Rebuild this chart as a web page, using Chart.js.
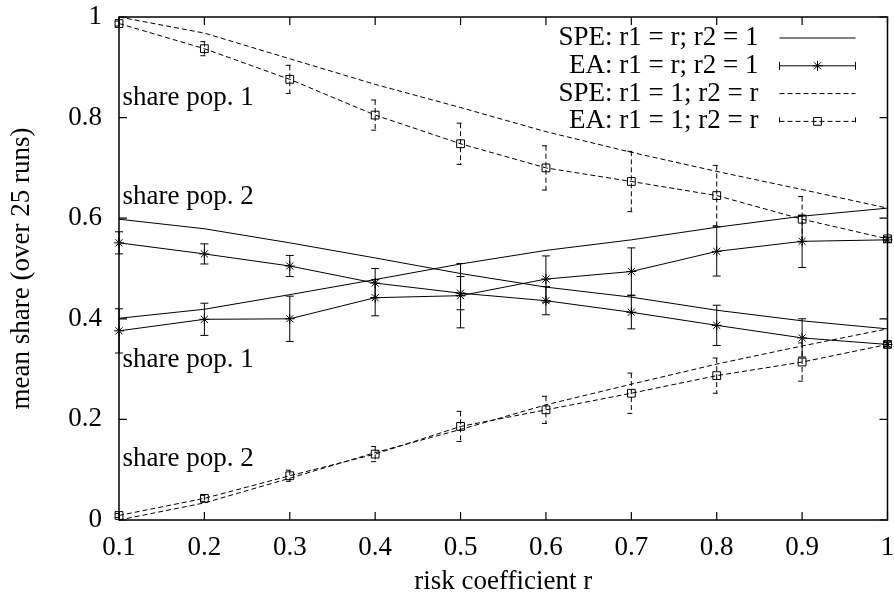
<!DOCTYPE html>
<html>
<head>
<meta charset="utf-8">
<script src="https://cdn.jsdelivr.net/npm/chart.js@4.4.1/dist/chart.umd.min.js"></script>
<style>
  body { margin: 0; background: #fff; }
  #cadre { width: 894px; height: 603px; }
</style>
</head>
<body>
<div id="cadre"><canvas id="graphique"></canvas></div>
<script>
// valeurs
const risque = [0.1, 0.2, 0.3, 0.4, 0.5, 0.6, 0.7, 0.8, 0.9, 1.0];

// r1 = r ; r2 = 1
const speA_pop1 = [0.401, 0.419, 0.448, 0.478, 0.509, 0.536, 0.557, 0.582, 0.604, 0.620];
const speA_pop2 = [0.598, 0.579, 0.551, 0.521, 0.490, 0.463, 0.443, 0.417, 0.396, 0.380];
const eaA_pop1 = [0.376, 0.399, 0.400, 0.442, 0.446, 0.479, 0.494, 0.534, 0.554, 0.557];
const eaA_pop1_err = [0.044, 0.032, 0.045, 0.036, 0.064, 0.046, 0.047, 0.049, 0.052, 0.005];
const eaA_pop2 = [0.551, 0.529, 0.505, 0.471, 0.451, 0.436, 0.413, 0.387, 0.362, 0.349];
const eaA_pop2_err = [0.022, 0.020, 0.021, 0.029, 0.033, 0.028, 0.033, 0.040, 0.038, 0.005];

// r1 = 1 ; r2 = r
const speB_pop1 = [1.000, 0.968, 0.917, 0.866, 0.820, 0.772, 0.731, 0.693, 0.657, 0.620];
const speB_pop2 = [0.000, 0.034, 0.083, 0.134, 0.180, 0.229, 0.270, 0.310, 0.346, 0.380];
const eaB_pop1 = [0.987, 0.937, 0.876, 0.805, 0.748, 0.700, 0.673, 0.645, 0.598, 0.559];
const eaB_pop1_err = [0.005, 0.014, 0.028, 0.030, 0.041, 0.044, 0.060, 0.060, 0.045, 0.004];
const eaB_pop2 = [0.009, 0.043, 0.088, 0.131, 0.186, 0.219, 0.252, 0.287, 0.314, 0.349];
const eaB_pop2_err = [0.004, 0.006, 0.011, 0.015, 0.030, 0.027, 0.040, 0.035, 0.038, 0.004];

const graduationsX = [0.1, 0.2, 0.3, 0.4, 0.5, 0.6, 0.7, 0.8, 0.9, 1.0];
const graduationsY = [0, 0.2, 0.4, 0.6, 0.8, 1.0];

const legendes = ["SPE: r1 = r; r2 = 1", "EA: r1 = r; r2 = 1", "SPE: r1 = 1; r2 = r", "EA: r1 = 1; r2 = r"];

const etiquettes = [
    { texte: "share pop. 1", x: 0.104, y: 0.840 },
    { texte: "share pop. 2", x: 0.104, y: 0.643 },
    { texte: "share pop. 1", x: 0.104, y: 0.318 },
    { texte: "share pop. 2", x: 0.104, y: 0.121 }
];

const police = "'Liberation Serif', 'Times New Roman', serif";
const taille = 27;
const tiret = [5, 3];

function points(valeurs){
    return risque.map((r, i) => ({ x: r, y: valeurs[i] }));
}

function serie(label, valeurs, style){
    return Object.assign({
        label: label,
        data: points(valeurs),
        borderColor: "#000",
        backgroundColor: "rgba(0,0,0,0)",
        borderWidth: 1,
        pointRadius: 0,
        pointHoverRadius: 0,
        tension: 0,
        fill: false,
        clip: false
    }, style);
}

const styleEtoile = { pointStyle: "star", pointRadius: 5, pointBorderWidth: 1 };
const styleCarre = { pointStyle: "rect", pointRadius: 5.5, pointBorderWidth: 1, borderDash: tiret };

const jeux = [
    serie(legendes[0], speA_pop1, { legende: 0 }),
    serie(legendes[0], speA_pop2, {}),
    serie(legendes[1], eaA_pop1, Object.assign({ erreurs: eaA_pop1_err, legende: 1 }, styleEtoile)),
    serie(legendes[1], eaA_pop2, Object.assign({ erreurs: eaA_pop2_err }, styleEtoile)),
    serie(legendes[2], speB_pop1, { borderDash: tiret, legende: 2 }),
    serie(legendes[2], speB_pop2, { borderDash: tiret }),
    serie(legendes[3], eaB_pop1, Object.assign({ erreurs: eaB_pop1_err, legende: 3 }, styleCarre)),
    serie(legendes[3], eaB_pop2, Object.assign({ erreurs: eaB_pop2_err }, styleCarre))
];

// barres d'erreur (à la gnuplot)
const barresErreur = {
    id: "barresErreur",
    afterDatasetsDraw(chart){
        const ctx = chart.ctx;
        const xs = chart.scales.x;
        const ys = chart.scales.y;
        chart.data.datasets.forEach(ds => {
            if(!ds.erreurs) return;
            ctx.save();
            ctx.strokeStyle = "#000";
            ctx.lineWidth = 1;
            ctx.setLineDash(ds.borderDash || []);
            ds.data.forEach((p, i) => {
                const px = xs.getPixelForValue(p.x);
                const haut = ys.getPixelForValue(p.y + ds.erreurs[i]);
                const bas = ys.getPixelForValue(p.y - ds.erreurs[i]);
                ctx.beginPath();
                ctx.moveTo(px, haut); ctx.lineTo(px, bas);
                ctx.moveTo(px - 4, haut); ctx.lineTo(px + 4, haut);
                ctx.moveTo(px - 4, bas); ctx.lineTo(px + 4, bas);
                ctx.stroke();
            });
            ctx.restore();
        });
    }
};

// bordure + graduations vers l'intérieur
const bordure = {
    id: "bordure",
    afterDraw(chart){
        const ctx = chart.ctx;
        const a = chart.chartArea;
        const xs = chart.scales.x;
        const ys = chart.scales.y;
        ctx.save();
        ctx.strokeStyle = "#000";
        ctx.lineWidth = 1.5;
        ctx.strokeRect(a.left, a.top, a.right - a.left, a.bottom - a.top);
        ctx.lineWidth = 1.2;
        ctx.beginPath();
        graduationsX.forEach(v => {
            const px = xs.getPixelForValue(v);
            ctx.moveTo(px, a.bottom); ctx.lineTo(px, a.bottom - 8);
            ctx.moveTo(px, a.top); ctx.lineTo(px, a.top + 8);
        });
        graduationsY.forEach(v => {
            const py = ys.getPixelForValue(v);
            ctx.moveTo(a.left, py); ctx.lineTo(a.left + 8, py);
            ctx.moveTo(a.right, py); ctx.lineTo(a.right - 8, py);
        });
        ctx.stroke();

        // étiquettes dans le graphique
        ctx.fillStyle = "#000";
        ctx.font = taille + "px " + police;
        ctx.textAlign = "left";
        ctx.textBaseline = "middle";
        etiquettes.forEach(e => {
            ctx.fillText(e.texte, xs.getPixelForValue(e.x), ys.getPixelForValue(e.y));
        });

        // légende en haut à droite
        const texteDroite = a.right - 129;
        const debut = a.right - 108;
        const fin = a.right - 32;
        chart.data.datasets.forEach(ds => {
            if(ds.legende === undefined) return;
            const y = a.top + 21 + ds.legende * 27.8;
            ctx.setLineDash([]);
            ctx.textAlign = "right";
            ctx.fillText(ds.label, texteDroite, y);
            ctx.lineWidth = 1;
            ctx.setLineDash(ds.borderDash || []);
            ctx.beginPath();
            ctx.moveTo(debut, y); ctx.lineTo(fin, y);
            if(ds.erreurs){
                ctx.moveTo(debut, y - 4); ctx.lineTo(debut, y + 4);
                ctx.moveTo(fin, y - 4); ctx.lineTo(fin, y + 4);
            }
            ctx.stroke();
            if(ds.erreurs){
                ctx.setLineDash([]);
                ctx.fillStyle = "rgba(0,0,0,0)";
                Chart.helpers.drawPoint(ctx, {
                    pointStyle: ds.pointStyle, radius: ds.pointRadius, rotation: 0, borderWidth: 1
                }, (debut + fin) / 2, y);
                ctx.fillStyle = "#000";
            }
        });
        ctx.restore();
    }
};

const formatTick = v => String(Math.round(v * 10) / 10);

new Chart(document.querySelector("#graphique"), {
    type: "line",
    data: { datasets: jeux },
    options: {
        responsive: true,
        maintainAspectRatio: false,
        animation: false,
        layout: { padding: { left: 0, right: 2, top: 17, bottom: 0 } },
        plugins: {
            legend: { display: false },
            tooltip: { enabled: false }
        },
        scales: {
            x: {
                type: "linear",
                min: 0.1,
                max: 1,
                grid: { display: false, drawTicks: false },
                border: { display: false },
                afterBuildTicks: scale => { scale.ticks = graduationsX.map(v => ({ value: v })); },
                afterFit: scale => { scale.height = 83; scale.paddingLeft = 0; scale.paddingRight = 0; },
                ticks: { color: "#000", font: { family: police, size: taille }, padding: 12, maxRotation: 0, autoSkip: false, callback: formatTick },
                title: { display: true, text: "risk coefficient r", color: "#000", font: { family: police, size: taille }, padding: { top: 0, bottom: 5 } }
            },
            y: {
                type: "linear",
                min: 0,
                max: 1,
                grid: { display: false, drawTicks: false },
                border: { display: false },
                afterBuildTicks: scale => { scale.ticks = graduationsY.map(v => ({ value: v })); },
                afterFit: scale => { scale.width = 119; scale.paddingTop = 0; scale.paddingBottom = 0; },
                ticks: { color: "#000", font: { family: police, size: taille }, padding: 17, autoSkip: false, callback: formatTick },
                title: { display: true, text: "mean share (over 25 runs)", color: "#000", font: { family: police, size: taille }, padding: { top: 6, bottom: 0 } }
            }
        }
    },
    plugins: [barresErreur, bordure]
});
</script>
</body>
</html>
